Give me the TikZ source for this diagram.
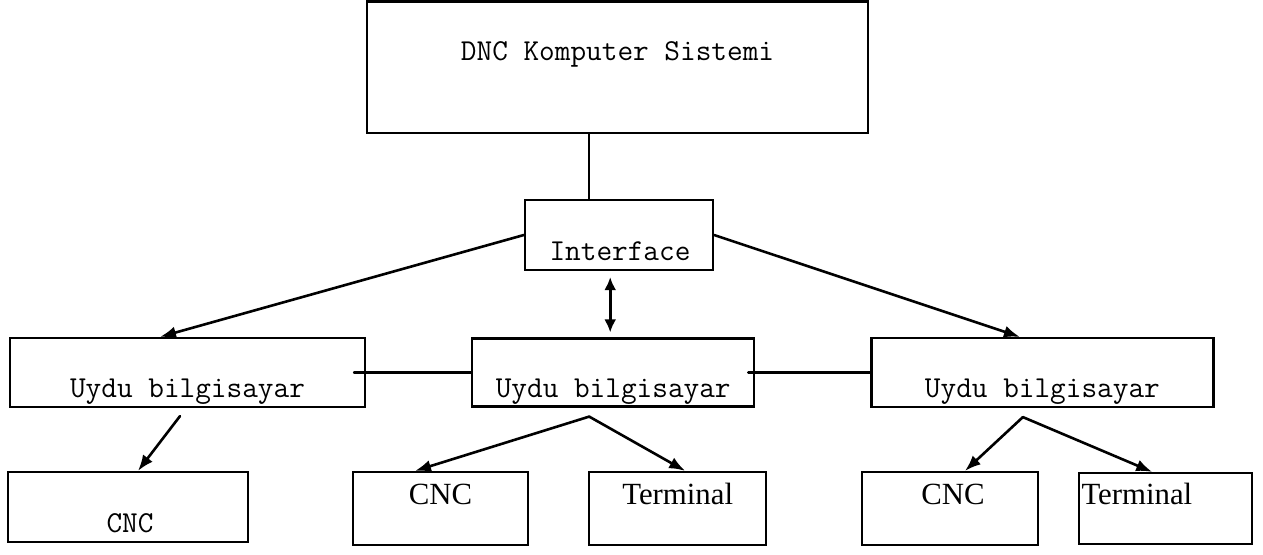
\documentclass[tikz,border=0pt]{standalone}
\usepackage{fontspec}
\setmainfont{Liberation Serif}
\usetikzlibrary{arrows.meta,positioning,calc}
\tikzset{
  blok/.style={draw=black, line width=1.1pt, inner sep=0pt},
  mono/.style={font=\ttfamily\fontsize{15.2}{18}\selectfont, inner sep=0pt},
  serif/.style={font=\rmfamily\fontsize{15.4}{18}\selectfont, inner sep=0pt},
  lnk/.style={line width=1.3pt, line cap=round},
  arr/.style={lnk, -{Latex[length=8pt, width=6pt]}},
  dblarr/.style={lnk, {Latex[length=6.5pt, width=6pt]}-{Latex[length=6.5pt, width=6pt]}},
}

\begin{document}
\begin{tikzpicture}[x=0.5pt, y=-0.5pt]
\fill[white] (0,0) rectangle (1263,555);
\useasboundingbox (0,0) rectangle (1263,555);

% upper part
\node[blok, minimum width=250.5pt, minimum height=65.75pt] (dnc) at (617.5,67.25) {};
\node[mono, anchor=base] (dnc-lbl) at ([yshift=3.6pt]dnc.center) {DNC Komputer Sistemi};
\node[blok, minimum width=94pt, minimum height=35pt] (iface) at (619,235) {};
\node[mono, anchor=base] (iface-lbl) at ([xshift=0.5pt, yshift=-13pt]iface.center) {Interface};

% satellite computers
\node[blok, minimum width=177.5pt, minimum height=34.5pt] (sat1) at (187.5,372.5) {};
\node[blok, minimum width=141pt, minimum height=34pt, right=52.5pt of sat1] (sat2) {};
\node[blok, minimum width=171pt, minimum height=34.5pt, right=57.5pt of sat2] (sat3) {};
\foreach \s in {sat1,sat2,sat3}
  \node[mono, anchor=base] (\s-lbl) at ([yshift=-12.75pt]\s.center) {Uydu bilgisayar};

% machines and terminals
\node[blok, minimum width=120pt, minimum height=35pt] (cncA) at (128,507) {};
\node[mono, anchor=base] (cncA-lbl) at ([xshift=1pt, yshift=-12.5pt]cncA.center) {CNC};
\node[blok, minimum width=87.5pt, minimum height=36.5pt] (cncB) at (440.5,508.5) {};
\node[blok, minimum width=88.5pt, minimum height=36.5pt, right=29.5pt of cncB] (termB) {};
\node[blok, minimum width=88pt, minimum height=36.5pt] (cncC) at (950,508.5) {};
\node[blok, minimum width=86.5pt, minimum height=35.5pt, right=19.5pt of cncC] (termC) {};
\node[serif, anchor=base] (cncB-lbl) at ([yshift=2pt]cncB.center) {CNC};
\node[serif, anchor=base] (termB-lbl) at ([yshift=2pt]termB.center) {Terminal};
\node[serif, anchor=base] (cncC-lbl) at ([xshift=1.5pt, yshift=2pt]cncC.center) {CNC};
\node[serif, anchor=base west] (termC-lbl) at ([xshift=1.5pt, yshift=2pt]termC.west) {Terminal};

% connections
\draw[lnk] ([xshift=-15pt]iface.north) -- ($(iface.north |- dnc.south)+(-15pt,0)$);
\draw[arr] (iface.west) -- ([xshift=-13.75pt]sat1.north);
\draw[arr] (iface.east) -- ([xshift=-11.25pt]sat3.north);
\draw[dblarr] ($(sat2.north |- iface.south)+(-1.5pt,-3pt)$) -- ([xshift=-1.5pt, yshift=2.5pt]sat2.north);
\draw[lnk] ([xshift=-6pt]sat1.east) -- (sat2.west);
\draw[lnk] ([xshift=-3.5pt]sat2.east) -- (sat3.west);

\coordinate (fork1) at ([xshift=-3.75pt, yshift=-4pt]sat1.south);
\coordinate (fork2) at ([xshift=-12pt, yshift=-4.5pt]sat2.south);
\coordinate (fork3) at ([xshift=-9.75pt, yshift=-4.5pt]sat3.south);
\draw[arr] (fork1) -- ([xshift=5pt]cncA.north);
\draw[arr] (fork2) -- ([xshift=-12.75pt]cncB.north);
\draw[arr] (fork2) -- ([xshift=3.75pt]termB.north);
\draw[arr] (fork3) -- ([xshift=7.5pt]cncC.north);
\draw[arr] (fork3) -- ([xshift=-6.75pt]termC.north);
\end{tikzpicture}
\end{document}
